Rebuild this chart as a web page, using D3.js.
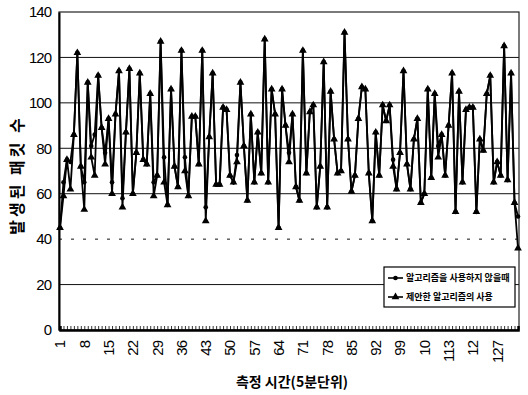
<!DOCTYPE html>
<html>
<head>
<meta charset="utf-8">
<script src="https://cdn.jsdelivr.net/npm/d3@7/dist/d3.min.js"></script>
<style>
  body { margin: 0; background: #fff; }
  text { font-family: "Liberation Sans", Arial, sans-serif; fill: #000; }
  .kr { font-family: "Noto Sans CJK KR", sans-serif; }
</style>
</head>
<body>
<script>
var svgWidth = 528;
var svgHeight = 395;

// measurement time slots (5 min units)
var slots = d3.range(1, 134);

var tickValues = [1, 8, 15, 22, 29, 36, 43, 50, 57, 64, 71, 78, 85, 92, 99, 106, 113, 120, 127];
var tickLabels = ["1", "8", "15", "22", "29", "36", "43", "50", "57", "64", "71", "78", "85", "92", "99", "10", "113", "12", "127"];

var yTicks = [0, 20, 40, 60, 80, 100, 120, 140];

var seriesNames = ["알고리즘을 사용하지 않을때", "제안한 알고리즘의 사용"];

var withoutAlgo = [
  45, 65, 75, 74, 86, 122, 72, 65, 109, 81,
  86, 112, 89, 78, 93, 65, 95, 114, 58, 87,
  115, 60, 78, 113, 75, 73, 104, 65, 68, 127,
  76, 55, 106, 72, 63, 123, 76, 59, 94, 94,
  73, 123, 54, 85, 113, 64, 64, 98, 97, 68,
  65, 77, 109, 81, 57, 95, 65, 87, 69, 128,
  65, 106, 95, 45, 106, 90, 78, 95, 63, 57,
  123, 69, 96, 99, 54, 72, 118, 54, 105, 84,
  69, 70, 131, 84, 61, 68, 93, 107, 106, 69,
  48, 87, 68, 99, 92, 99, 75, 62, 78, 114,
  73, 62, 84, 93, 56, 60, 106, 67, 104, 81,
  86, 68, 90, 113, 52, 105, 65, 97, 98, 98,
  52, 84, 79, 104, 112, 65, 74, 68, 125, 66,
  113, 56, 50
];

var withAlgo = [
  45, 59, 75, 62, 86, 122, 72, 53, 109, 76,
  68, 112, 89, 73, 93, 60, 95, 114, 54, 87,
  115, 60, 78, 113, 75, 73, 104, 59, 68, 127,
  65, 55, 106, 72, 63, 123, 70, 59, 94, 94,
  73, 123, 48, 85, 113, 64, 64, 98, 97, 68,
  65, 74, 109, 81, 57, 95, 65, 87, 69, 128,
  65, 106, 95, 45, 106, 90, 74, 95, 63, 57,
  123, 69, 96, 99, 54, 72, 118, 54, 105, 84,
  69, 70, 131, 84, 61, 68, 93, 107, 106, 69,
  48, 87, 68, 99, 92, 99, 72, 62, 78, 114,
  73, 62, 84, 93, 56, 60, 106, 67, 104, 76,
  86, 68, 90, 113, 52, 105, 65, 97, 98, 98,
  52, 84, 79, 104, 112, 65, 74, 68, 125, 66,
  113, 56, 36
];

var plot = { left: 59, right: 519, top: 12, bottom: 330 };

var svg = d3.select("body")
  .append("svg")
  .attr("width", svgWidth)
  .attr("height", svgHeight);

var xScale = d3.scaleLinear()
  .domain([1, 133])
  .range([plot.left + 1, plot.right - 1]);

var yScale = d3.scaleLinear()
  .domain([0, 140])
  .range([plot.bottom, plot.top]);

// gridlines
svg.append("g")
  .selectAll("line")
  .data(yTicks.filter(d => d > 0 && d < 140))
  .enter()
  .append("line")
  .attr("x1", plot.left)
  .attr("x2", plot.right)
  .attr("y1", d => yScale(d))
  .attr("y2", d => yScale(d))
  .attr("stroke", "#111")
  .attr("stroke-width", 1)
  .attr("stroke-dasharray", d => d == 40 ? "3,9" : null);

// frame
svg.append("rect")
  .attr("x", plot.left)
  .attr("y", plot.top)
  .attr("width", plot.right - plot.left)
  .attr("height", plot.bottom - plot.top)
  .attr("fill", "none")
  .attr("stroke", "#222")
  .attr("stroke-width", 1.2);

// y axis
var leftAxis = d3.axisLeft(yScale)
  .tickValues(yTicks)
  .tickSize(0)
  .tickPadding(8);

var yAxisG = svg.append("g")
  .attr("transform", `translate(${plot.left}, 0)`)
  .call(leftAxis);
yAxisG.select(".domain").attr("stroke", "#000").attr("stroke-width", 2);
yAxisG.selectAll("text")
  .style("font-size", "15px")
  .style("letter-spacing", "-1px");

// x axis with a tick for every slot
var bottomAxis = d3.axisBottom(xScale)
  .tickValues(slots)
  .tickSize(-4)
  .tickFormat("");

var xAxisG = svg.append("g")
  .attr("transform", `translate(0, ${plot.bottom})`)
  .call(bottomAxis);
xAxisG.select(".domain").attr("stroke", "#000").attr("stroke-width", 2.5);
xAxisG.selectAll(".tick line").attr("stroke", "#000").attr("stroke-width", 0.8);

// rotated category labels
svg.append("g")
  .selectAll("text")
  .data(tickValues)
  .enter()
  .append("text")
  .attr("transform", d => `translate(${xScale(d)}, ${plot.bottom + 11}) rotate(-90)`)
  .attr("dy", "0.36em")
  .style("text-anchor", "end")
  .style("font-size", "15px")
  .style("letter-spacing", "-1px")
  .text((d, i) => tickLabels[i]);

// axis titles
svg.append("text")
  .attr("class", "kr")
  .attr("x", 292)
  .attr("y", 387)
  .style("text-anchor", "middle")
  .style("font-size", "14px")
  .style("font-weight", "bold")
  .text("측정 시간(5분단위)");

svg.append("text")
  .attr("class", "kr")
  .attr("transform", "rotate(-90)")
  .attr("x", -175)
  .attr("y", 23)
  .style("text-anchor", "middle")
  .style("font-size", "16px")
  .style("font-weight", "bold")
  .style("letter-spacing", "3px")
  .text("발생된 패킷 수");

// lines
var line = d3.line()
  .x((d, i) => xScale(slots[i]))
  .y(d => yScale(d));

var triangle = d3.symbol().type(d3.symbolTriangle).size(26);

svg.append("path")
  .datum(withAlgo)
  .attr("d", line)
  .attr("fill", "none")
  .attr("stroke", "#000")
  .attr("stroke-width", 1.8);

svg.append("path")
  .datum(withoutAlgo)
  .attr("d", line)
  .attr("fill", "none")
  .attr("stroke", "#000")
  .attr("stroke-width", 1.8);

svg.append("g")
  .selectAll("path")
  .data(withAlgo)
  .enter()
  .append("path")
  .attr("d", triangle)
  .attr("transform", (d, i) => `translate(${xScale(slots[i])}, ${yScale(d)})`)
  .attr("fill", "#000");

svg.append("g")
  .selectAll("circle")
  .data(withoutAlgo)
  .enter()
  .append("circle")
  .attr("cx", (d, i) => xScale(slots[i]))
  .attr("cy", d => yScale(d))
  .attr("r", 2.3)
  .attr("fill", "#000");

// legend
var legend = svg.append("g")
  .attr("transform", "translate(384, 267)");

legend.append("rect")
  .attr("width", 131)
  .attr("height", 40)
  .attr("fill", "#fff")
  .attr("stroke", "#000")
  .attr("stroke-width", 1.2);

var rows = legend.selectAll(".row")
  .data(seriesNames)
  .enter()
  .append("g")
  .attr("transform", (d, i) => `translate(0, ${11 + i * 19})`);

rows.append("line")
  .attr("x1", 4)
  .attr("x2", 19)
  .attr("stroke", "#000")
  .attr("stroke-width", 1.6);

rows.filter((d, i) => i == 0).append("circle")
  .attr("cx", 11.5)
  .attr("r", 2.3)
  .attr("fill", "#000");

rows.filter((d, i) => i == 1).append("path")
  .attr("d", triangle)
  .attr("transform", "translate(11.5, 0)")
  .attr("fill", "#000");

rows.append("text")
  .attr("class", "kr")
  .attr("x", 22)
  .attr("dy", "0.35em")
  .style("font-size", "9px")
  .style("font-weight", "bold")
  .text(d => d);
</script>
</body>
</html>
